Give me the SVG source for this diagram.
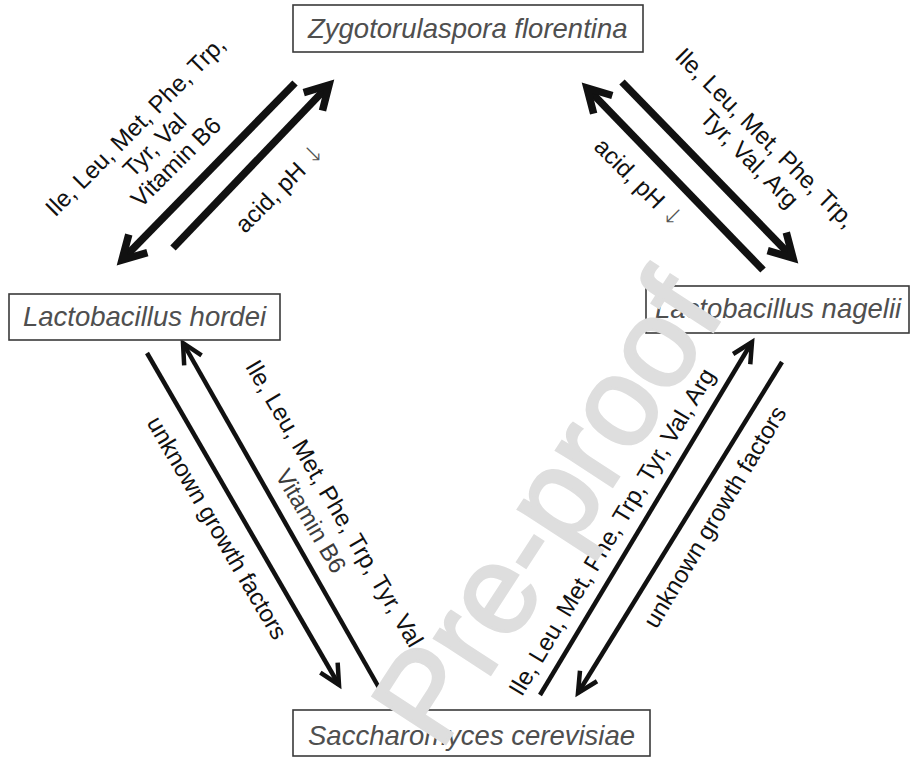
<svg xmlns="http://www.w3.org/2000/svg" width="911" height="758" viewBox="0 0 911 758">
  <style>
    .box { fill: #ffffff; stroke: #3a3a3a; stroke-width: 1.6; }
    .name { font-family: "Liberation Sans", Arial, sans-serif; font-style: italic; font-size: 27.5px; fill: #4f4f4f; }
    .lbl { font-family: "Liberation Sans", Arial, sans-serif; font-size: 24px; fill: #111111; text-anchor: middle; }
    .soft { fill: #3c3c3c; }
    .sym { font-family: "DejaVu Sans", sans-serif; font-weight: 200; fill: #555555; }
    .thick { fill: none; stroke: #111111; stroke-width: 7.5; }
    .thin { fill: none; stroke: #111111; stroke-width: 4.5; }
    .mark { font-family: "Liberation Sans", Arial, sans-serif; font-size: 126px; fill: #dedede; stroke: #dedede; stroke-width: 3; }
  </style>
  <defs>
    <marker id="headThick" markerUnits="userSpaceOnUse" viewBox="-40 -20 50 40" markerWidth="50" markerHeight="40" refX="0" refY="0" orient="auto">
      <path d="M -23,-13 L 0,0 L -23,13" fill="none" stroke="#111111" stroke-width="7.5" stroke-linejoin="miter" stroke-miterlimit="10"/>
    </marker>
    <marker id="headThin" markerUnits="userSpaceOnUse" viewBox="-40 -20 50 40" markerWidth="50" markerHeight="40" refX="0" refY="0" orient="auto">
      <path d="M -20,-10 L 0,0 L -20,10" fill="none" stroke="#111111" stroke-width="4.5" stroke-linejoin="miter" stroke-miterlimit="10"/>
    </marker>
  </defs>

  <!-- connectors -->
  <g id="connectors">
    <path class="thick" d="M 295,83 L 122,260" marker-end="url(#headThick)"/>
    <path class="thick" d="M 173,248 L 329,85" marker-end="url(#headThick)"/>
    <path class="thick" d="M 622,82 L 793,258" marker-end="url(#headThick)"/>
    <path class="thick" d="M 763,270 L 587,88" marker-end="url(#headThick)"/>
    <path class="thin" d="M 147,353 L 339,685" marker-end="url(#headThin)"/>
    <path class="thin" d="M 382,693 L 183,343" marker-end="url(#headThin)"/>
    <path class="thin" d="M 540,695 L 752,342" marker-end="url(#headThin)"/>
    <path class="thin" d="M 782,362 L 578,693" marker-end="url(#headThin)"/>
  </g>

  <!-- connector labels -->
  <g id="labels">
    <text class="lbl" transform="translate(157,143) rotate(-45)">
      <tspan x="0" y="-19">Ile, Leu, Met, Phe, Trp,</tspan>
      <tspan x="0" y="8">Tyr, Val</tspan>
      <tspan x="0" y="35">Vitamin B6</tspan>
    </text>
    <text class="lbl" transform="translate(280,188) rotate(-45)" x="0" y="8">acid, pH <tspan class="sym">↓</tspan></text>

    <text class="lbl" transform="translate(767,141) rotate(45)">
      <tspan x="0" y="7">Ile, Leu, Met, Phe, Trp,</tspan>
      <tspan x="0" y="33">Tyr, Val, Arg</tspan>
    </text>
    <text class="lbl" transform="translate(639,183) rotate(45)" x="0" y="8">acid, pH <tspan class="sym">↓</tspan></text>

    <text class="lbl" transform="translate(217,528) rotate(59.7)" x="0" y="8">unknown growth factors</text>
    <text class="lbl" transform="translate(335,507) rotate(59.7)">
      <tspan x="0" y="7">Ile, Leu, Met, Phe, Trp, Tyr, Val</tspan>
      <tspan class="soft" x="0" y="36">Vitamin B6</tspan>
    </text>

    <text class="lbl" transform="translate(612,532) rotate(-59)" x="0" y="8">Ile, Leu, Met, Phe, Trp, Tyr, Val, Arg</text>
    <text class="lbl" transform="translate(715,517) rotate(-59)" x="0" y="8">unknown growth factors</text>
  </g>

  <!-- organisms -->
  <g id="zygotorulaspora">
    <rect class="box" x="293" y="5" width="350" height="47"/>
    <text class="name" x="308" y="38">Zygotorulaspora florentina</text>
  </g>
  <g id="hordei">
    <rect class="box" x="9" y="294" width="271" height="46"/>
    <text class="name" x="23" y="326">Lactobacillus hordei</text>
  </g>
  <g id="nagelii">
    <rect class="box" x="646" y="286" width="263" height="47"/>
    <text class="name" x="655" y="318">Lactobacillus nagelii</text>
  </g>
  <g id="saccharomyces">
    <rect class="box" x="293" y="710" width="357" height="46"/>
    <text class="name" x="308" y="745">Saccharomyces cerevisiae</text>
  </g>

  <!-- overlay stamp -->
  <text class="mark" transform="translate(440,752) rotate(-57)" x="0" y="0">Pre-proof</text>
</svg>
